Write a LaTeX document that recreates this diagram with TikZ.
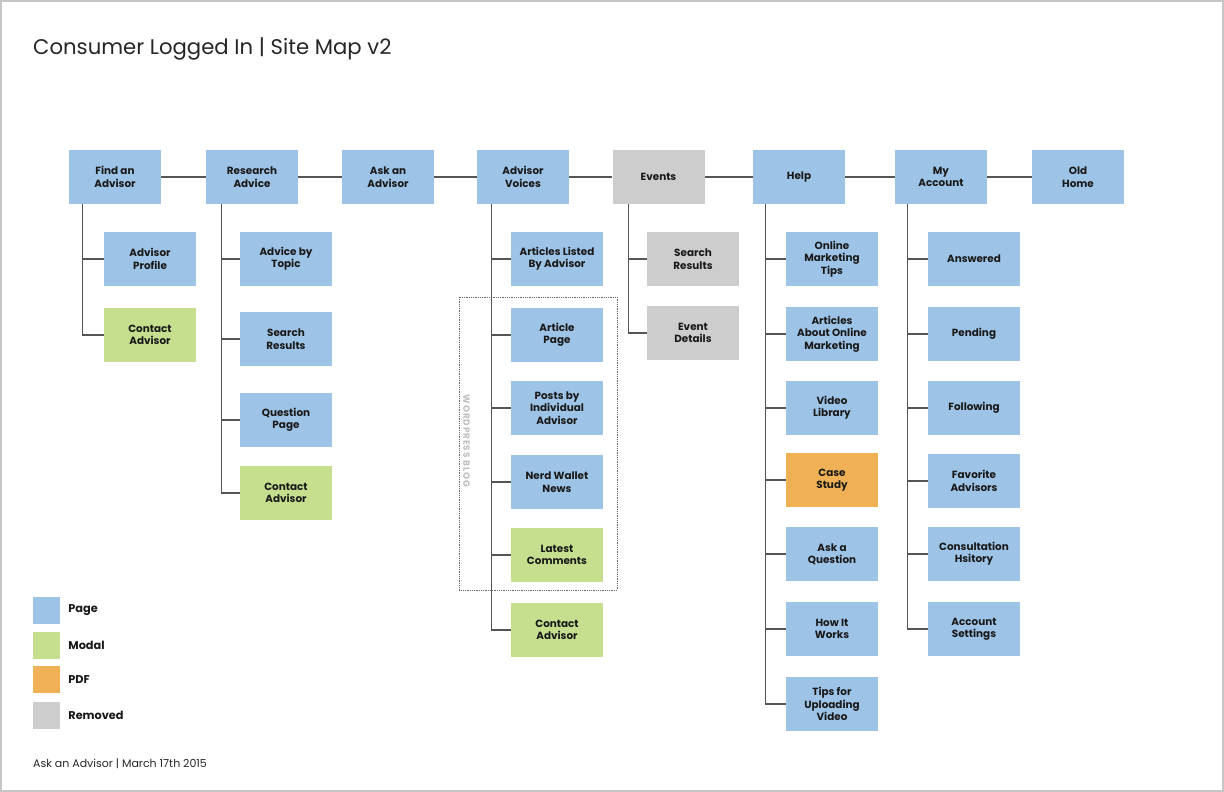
\documentclass[tikz,border=0pt]{standalone}
\usepackage{fontspec}
\setmainfont{Poppins}
\usetikzlibrary{positioning}
\definecolor{pageblue}{RGB}{157,196,231}
\definecolor{modalgreen}{RGB}{197,223,143}
\definecolor{pdforange}{RGB}{240,177,86}
\definecolor{removedgray}{RGB}{205,205,205}
\definecolor{linegray}{RGB}{85,85,85}
\tikzset{
  box/.style={
    draw=none,
    minimum width=92pt,
    minimum height=54pt,
    inner sep=2pt,
    align=center,
    text=black!90,
    font=\fontsize{10.4}{12.4}\selectfont\bfseries,
  },
  pagebox/.style={
    box,
    fill=pageblue,
  },
  modalbox/.style={
    box,
    fill=modalgreen,
  },
  pdfbox/.style={
    box,
    fill=pdforange,
  },
  removedbox/.style={
    box,
    fill=removedgray,
  },
  link/.style={
    draw=linegray,
    line width=1.3pt,
  },
  legendkey/.style={
    minimum size=27pt,
    inner sep=0pt,
  },
  legendtext/.style={
    right=8pt,
    inner sep=0pt,
    font=\fontsize{11.3}{13}\selectfont\bfseries,
    text=black!90,
  },
}

\begin{document}
\begin{tikzpicture}[x=1pt,y=-1pt]
  \useasboundingbox (0,0) rectangle (1224,792);
  \draw[gray!45, line width=2pt] (1,1) rectangle (1223,791);

  \node[anchor=base west, inner sep=0pt, text=black!85,
    font=\fontsize{21.2}{25}\selectfont] (title) at (33,55)
    {Consumer Logged In | Site Map v2};

  % top level
  \node[pagebox] (find) at (115,177) {Find an\\Advisor};
  \node[pagebox] (research) at (252,177) {Research\\Advice};
  \node[pagebox] (ask) at (388,177) {Ask an\\Advisor};
  \node[pagebox] (voices) at (523,177) {Advisor\\Voices};
  \node[removedbox] (events) at (658.5,177) {Events};
  \node[pagebox] (help) at (799,177) {Help};
  \node[pagebox] (account) at (941,177) {My\\Account};
  \node[pagebox] (oldhome) at (1078,177) {Old\\Home};

  \draw[link] (find) -- (research) -- (ask) -- (voices) -- (events)
    -- (help) -- (account) -- (oldhome);

  % find an advisor
  \node[pagebox] (findprofile) at (150,259) {Advisor\\Profile};
  \node[modalbox] (findcontact) at (150,335) {Contact\\Advisor};

  % research advice
  \node[pagebox] (restopic) at (286,259) {Advice by\\Topic};
  \node[pagebox] (ressearch) at (286,339) {Search\\Results};
  \node[pagebox] (resquestion) at (286,420) {Question\\Page};
  \node[modalbox] (rescontact) at (286,493) {Contact\\Advisor};

  % advisor voices
  \node[pagebox] (voclisted) at (557,259) {Articles Listed\\By Advisor};
  \node[pagebox] (vocarticle) at (557,335) {Article\\Page};
  \node[pagebox] (vocposts) at (557,408) {Posts by\\Individual\\Advisor};
  \node[pagebox] (vocnews) at (557,482) {Nerd Wallet\\News};
  \node[modalbox] (voccomments) at (557,555) {Latest\\Comments};
  \node[modalbox] (voccontact) at (557,630) {Contact\\Advisor};

  \draw[densely dotted, gray!80!black, line width=0.8pt] (459,297) rectangle (617,590);
  \node[rotate=-90, text=black!25, inner sep=0pt,
    font=\fontsize{9}{11}\selectfont\bfseries\addfontfeature{LetterSpace=9}]
    (blog) at (466.5,441) {WORDPRESS BLOG};

  % events
  \node[removedbox] (evsearch) at (693,259) {Search\\Results};
  \node[removedbox] (evdetails) at (693,333) {Event\\Details};

  % help
  \node[pagebox] (helptips) at (832,259) {Online\\Marketing\\Tips};
  \node[pagebox] (helparticles) at (832,334) {Articles\\About Online\\Marketing};
  \node[pagebox] (helpvideo) at (832,408) {Video\\Library};
  \node[pdfbox] (helpcase) at (832,480) {Case\\Study};
  \node[pagebox] (helpask) at (832,554) {Ask a\\Question};
  \node[pagebox] (helphow) at (832,629) {How It\\Works};
  \node[pagebox] (helpupload) at (832,704) {Tips for\\Uploading\\Video};

  % my account
  \node[pagebox] (accanswered) at (974,259) {Answered};
  \node[pagebox] (accpending) at (974,334) {Pending};
  \node[pagebox] (accfollowing) at (974,408) {Following};
  \node[pagebox] (accfavorite) at (974,481) {Favorite\\Advisors};
  \node[pagebox] (acchistory) at (974,554) {Consultation\\Hsitory};
  \node[pagebox] (accsettings) at (974,629) {Account\\Settings};

  \foreach \kid in {findprofile,findcontact}
    \draw[link] ([xshift=14pt]find.south west) |- (\kid.west);
  \foreach \kid in {restopic,ressearch,resquestion,rescontact}
    \draw[link] ([xshift=16pt]research.south west) |- (\kid.west);
  \foreach \kid in {voclisted,vocarticle,vocposts,vocnews,voccomments,voccontact}
    \draw[link] ([xshift=15pt]voices.south west) |- (\kid.west);
  \foreach \kid in {evsearch,evdetails}
    \draw[link] ([xshift=16pt]events.south west) |- (\kid.west);
  \foreach \kid in {helptips,helparticles,helpvideo,helpcase,helpask,helphow,helpupload}
    \draw[link] ([xshift=13pt]help.south west) |- (\kid.west);
  \foreach \kid in {accanswered,accpending,accfollowing,accfavorite,acchistory,accsettings}
    \draw[link] ([xshift=13pt]account.south west) |- (\kid.west);

  % legend
  \node[legendkey, fill=pageblue] (legpage) at (46.5,610.5) {};
  \node[legendkey, fill=modalgreen] (legmodal) at (46.5,645.5) {};
  \node[legendkey, fill=pdforange] (legpdf) at (46.5,679.5) {};
  \node[legendkey, fill=removedgray] (legremoved) at (46.5,715.5) {};
  \node[legendtext, right=8pt of legpage] (legpagetext) {Page};
  \node[legendtext, right=8pt of legmodal] (legmodaltext) {Modal};
  \node[legendtext, right=8pt of legpdf] (legpdftext) {PDF};
  \node[legendtext, right=8pt of legremoved] (legremovedtext) {Removed};

  \node[anchor=base west, inner sep=0pt, text=black!85,
    font=\fontsize{11}{13}\selectfont] (footer) at (33,767)
    {Ask an Advisor | March 17th 2015};
\end{tikzpicture}
\end{document}
